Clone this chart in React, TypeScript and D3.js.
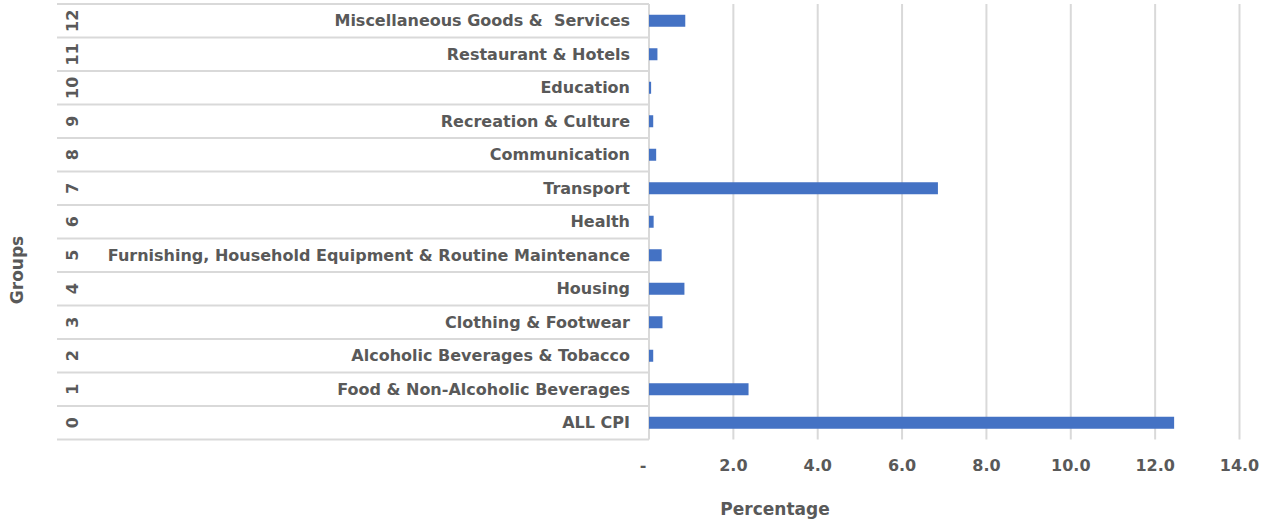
import React from "react";
import * as d3 from "d3";

const groupNumbers = ["0", "1", "2", "3", "4", "5", "6", "7", "8", "9", "10", "11", "12"];
const categories = [
  "ALL CPI",
  "Food & Non-Alcoholic Beverages",
  "Alcoholic Beverages & Tobacco",
  "Clothing & Footwear",
  "Housing",
  "Furnishing, Household Equipment & Routine Maintenance",
  "Health",
  "Transport",
  "Communication",
  "Recreation & Culture",
  "Education",
  "Restaurant & Hotels",
  "Miscellaneous Goods &  Services",
];
const values = [12.45, 2.36, 0.1, 0.32, 0.84, 0.3, 0.11, 6.85, 0.17, 0.1, 0.05, 0.2, 0.86];
const xTicks = [0, 2, 4, 6, 8, 10, 12, 14];

const W = 1270;
const H = 524;
const FONT = "'DejaVu Sans', sans-serif";
const TEXT = "#595959";
const GRID = "#d9d9d9";

export default function App() {
  const x0 = 649;
  const x1 = 1239.5;
  const top = 4;
  const bottom = 439.5;
  const x = d3.scaleLinear().domain([0, 14]).range([x0, x1]);
  const rows = groupNumbers.map((_, i) => i);
  const y = d3.scaleBand<number>().domain(rows.slice().reverse()).range([top, bottom]).paddingInner(0).paddingOuter(0);
  const bw = y.bandwidth();
  const barH = 12;
  const fmt = (v: number) => (v === 0 ? "-" : d3.format(".1f")(v));
  const FS = 16;

  return (
    <svg width={W} height={H} style={{ position: "absolute", left: 0, top: 0 }}>
      <rect width={W} height={H} fill="#fff" />
      {xTicks.slice(1).map((t) => (
        <line key={t} x1={x(t)} x2={x(t)} y1={top} y2={bottom} stroke={GRID} strokeWidth={2} />
      ))}
      {d3.range(14).map((i) => {
        const yy = top + i * bw;
        return <line key={i} x1={57} x2={x0} y1={yy} y2={yy} stroke={GRID} strokeWidth={2} />;
      })}
      <line x1={x0} x2={x0} y1={top} y2={bottom} stroke={GRID} strokeWidth={2} />
      {rows.map((i) => {
        const cy = (y(i) as number) + bw / 2;
        return (
          <g key={i}>
            <rect x={x(0)} y={cy - barH / 2} width={x(values[i]) - x(0)} height={barH} fill="#4472c4" />
            <text
              x={630}
              y={cy}
              dy="0.35em"
              textAnchor="end"
              fontFamily={FONT}
              fontWeight={700}
              fontSize={FS}
              fill={TEXT}
              style={{ whiteSpace: "pre" }}
            >
              {categories[i]}
            </text>
            <text
              transform={`translate(72,${cy}) rotate(-90)`}
              dy="0.35em"
              textAnchor="middle"
              fontFamily={FONT}
              fontWeight={700}
              fontSize={FS}
              fill={TEXT}
            >
              {groupNumbers[i]}
            </text>
          </g>
        );
      })}
      {xTicks.map((t) => (
        <text key={t} x={t === 0 ? x(t) - 6 : x(t)} y={465} dy="0.35em" textAnchor="middle" fontFamily={FONT} fontWeight={700} fontSize={FS} fill={TEXT}>
          {fmt(t)}
        </text>
      ))}
      <text x={775} y={509} dy="0.35em" textAnchor="middle" fontFamily={FONT} fontWeight={700} fontSize={17} fill={TEXT}>
        Percentage
      </text>
      <text transform={`translate(17,270) rotate(-90)`} dy="0.35em" textAnchor="middle" fontFamily={FONT} fontWeight={700} fontSize={17} fill={TEXT}>
        Groups
      </text>
    </svg>
  );
}
